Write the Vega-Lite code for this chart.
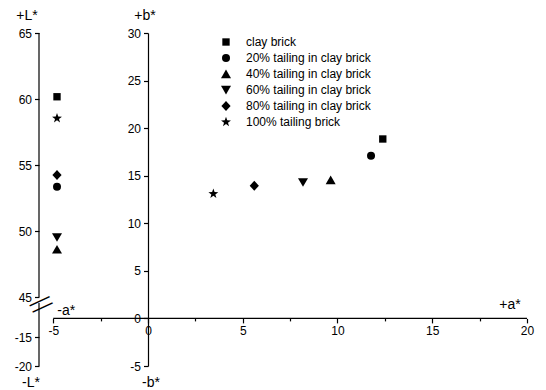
{
  "$schema": "https://vega.github.io/schema/vega-lite/v6.json",
  "width": 488,
  "height": 333,
  "autosize": "none",
  "padding": {"left": 39, "top": 33, "right": 19, "bottom": 24},
  "background": "white",
  "config": {
    "font": "Liberation Sans",
    "view": {"stroke": null},
    "axis": {"grid": false, "domainColor": "black", "tickColor": "black", "labelColor": "black", "labelFontSize": 12, "labelPadding": 3, "domainWidth": 1.2, "tickWidth": 1.2, "labelFlush": false, "labelOverlap": false,
             "tickSize": {"condition": {"test": "datum.value % 5 !== 0", "value": 2.5}, "value": 4.5},
             "labelExpr": "datum.value % 5 === 0 ? (datum.value + '') : ''"},
    "text": {"font": "Liberation Sans", "fontSize": 14, "color": "black"}
  },
  "datasets": {
    "bricks": [
      {"sample": "clay brick", "L": 60.17, "a": 12.39, "b": 18.86},
      {"sample": "20% tailing in clay brick", "L": 53.36, "a": 11.77, "b": 17.1},
      {"sample": "40% tailing in clay brick", "L": 48.61, "a": 9.64, "b": 14.55},
      {"sample": "60% tailing in clay brick", "L": 49.52, "a": 8.18, "b": 14.3},
      {"sample": "80% tailing in clay brick", "L": 54.24, "a": 5.61, "b": 13.95},
      {"sample": "100% tailing brick", "L": 58.54, "a": 3.45, "b": 13.1}
    ],
    "one": [{}]
  },
  "layer": [
    {
      "layer": [
        {
          "data": {"name": "one"},
          "mark": {"type": "rule", "color": "black", "strokeWidth": 1.2},
          "encoding": {
            "x": {"datum": -5.75, "type": "quantitative", "title": null, "scale": {"domain": [-5.75, 20], "nice": false, "zero": false}},
            "y": {"datum": 45, "type": "quantitative", "title": null, "scale": {"domain": [-20, -9, 45, 65], "range": [333, 270, 264, 0], "nice": false, "zero": false}},
            "y2": {"datum": 65}
          }
        },
        {
          "data": {"name": "one"},
          "mark": {"type": "rule", "color": "black", "strokeWidth": 1.2},
          "encoding": {
            "x": {"datum": -5.75, "type": "quantitative", "title": null},
            "y": {"datum": -20, "type": "quantitative", "title": null},
            "y2": {"datum": -9}
          }
        },
        {
          "data": {"name": "one"},
          "mark": {"type": "text", "text": ["—", "—"], "angle": -25, "lineHeight": 7, "fontSize": 22, "baseline": "middle", "align": "center"},
          "encoding": {
            "x": {"datum": -5.75, "type": "quantitative", "title": null},
            "y": {"datum": 18, "type": "quantitative", "title": null}
          }
        },
        {
          "data": {"name": "bricks"},
          "mark": {"type": "point", "filled": true, "size": 64, "color": "black", "opacity": 1},
          "encoding": {
            "x": {"datum": -4.8, "type": "quantitative", "title": null},
            "y": {"field": "L", "type": "quantitative", "title": null,
                  "axis": {"orient": "left", "offset": 0, "values": [-20, -17.5, -15, -12.5, 45, 47.5, 50, 52.5, 55, 57.5, 60, 62.5, 65], "domain": false, "title": null}},
            "shape": {"field": "sample", "type": "nominal",
              "scale": {"domain": ["clay brick", "20% tailing in clay brick", "40% tailing in clay brick", "60% tailing in clay brick", "80% tailing in clay brick", "100% tailing brick"],
                        "range": ["M-0.92,-0.92L0.92,-0.92L0.92,0.92L-0.92,0.92Z", "circle", "M0,-1.1L1.25,1.05L-1.25,1.05Z", "M0,1.1L1.25,-1.05L-1.25,-1.05Z", "M0,-1.25L1.15,0L0,1.25L-1.15,0Z", "M0,-1.3L0.3056,-0.4207L1.2364,-0.4017L0.4945,0.1607L0.7641,1.0517L0,0.52L-0.7641,1.0517L-0.4945,0.1607L-1.2364,-0.4017L-0.3056,-0.4207Z"]},
              "legend": {"orient": "none", "legendX": 181, "legendY": 3, "title": null, "labelFontSize": 12, "labelOffset": 14, "rowPadding": 4, "symbolSize": 64, "padding": 0, "labelColor": "black", "symbolFillColor": "black", "symbolStrokeWidth": 0, "labelLimit": 0}}
          }
        },
        {
          "data": {"name": "one"},
          "mark": {"type": "text", "text": "+L*", "dx": -12, "dy": -17, "baseline": "middle", "align": "center"},
          "encoding": {
            "x": {"datum": -5.75, "type": "quantitative", "title": null},
            "y": {"datum": 65, "type": "quantitative", "title": null}
          }
        },
        {
          "data": {"name": "one"},
          "mark": {"type": "text", "text": "-L*", "dx": -8, "dy": 17, "baseline": "middle", "align": "center"},
          "encoding": {
            "x": {"datum": -5.75, "type": "quantitative", "title": null},
            "y": {"datum": -20, "type": "quantitative", "title": null}
          }
        }
      ]
    },
    {
      "layer": [
        {
          "data": {"name": "one"},
          "mark": {"type": "rule", "color": "black", "strokeWidth": 1.2},
          "encoding": {
            "x": {"datum": -5, "type": "quantitative", "title": null},
            "x2": {"datum": 20},
            "y": {"datum": 0, "type": "quantitative", "title": null, "scale": {"domain": [-5, 30], "nice": false, "zero": false}}
          }
        },
        {
          "data": {"name": "bricks"},
          "mark": {"type": "point", "filled": true, "size": 64, "color": "black", "opacity": 1},
          "encoding": {
            "x": {"field": "a", "type": "quantitative", "title": null,
                  "axis": {"orient": "bottom", "offset": -47.6, "values": [-5, -2.5, 0, 2.5, 5, 7.5, 10, 12.5, 15, 17.5, 20], "domain": false, "title": null}},
            "y": {"field": "b", "type": "quantitative", "title": null,
                  "axis": {"orient": "left", "offset": -109, "values": [-5, -2.5, 0, 2.5, 5, 7.5, 10, 12.5, 15, 17.5, 20, 22.5, 25, 27.5, 30], "title": null}},
            "shape": {"field": "sample", "type": "nominal"}
          }
        },
        {
          "data": {"name": "one"},
          "mark": {"type": "text", "text": "+b*", "dx": -3, "dy": -17, "baseline": "middle", "align": "center"},
          "encoding": {
            "x": {"datum": 0, "type": "quantitative", "title": null},
            "y": {"datum": 30, "type": "quantitative", "title": null}
          }
        },
        {
          "data": {"name": "one"},
          "mark": {"type": "text", "text": "-b*", "dx": 3, "dy": 17, "baseline": "middle", "align": "center"},
          "encoding": {
            "x": {"datum": 0, "type": "quantitative", "title": null},
            "y": {"datum": -5, "type": "quantitative", "title": null}
          }
        },
        {
          "data": {"name": "one"},
          "mark": {"type": "text", "text": "+a*", "dx": -17, "dy": -13, "baseline": "middle", "align": "center"},
          "encoding": {
            "x": {"datum": 20, "type": "quantitative", "title": null},
            "y": {"datum": 0, "type": "quantitative", "title": null}
          }
        },
        {
          "data": {"name": "one"},
          "mark": {"type": "text", "text": "-a*", "dx": 13, "dy": -7, "baseline": "middle", "align": "center"},
          "encoding": {
            "x": {"datum": -5, "type": "quantitative", "title": null},
            "y": {"datum": 0, "type": "quantitative", "title": null}
          }
        }
      ]
    }
  ],
  "resolve": {"scale": {"y": "independent"}}
}
